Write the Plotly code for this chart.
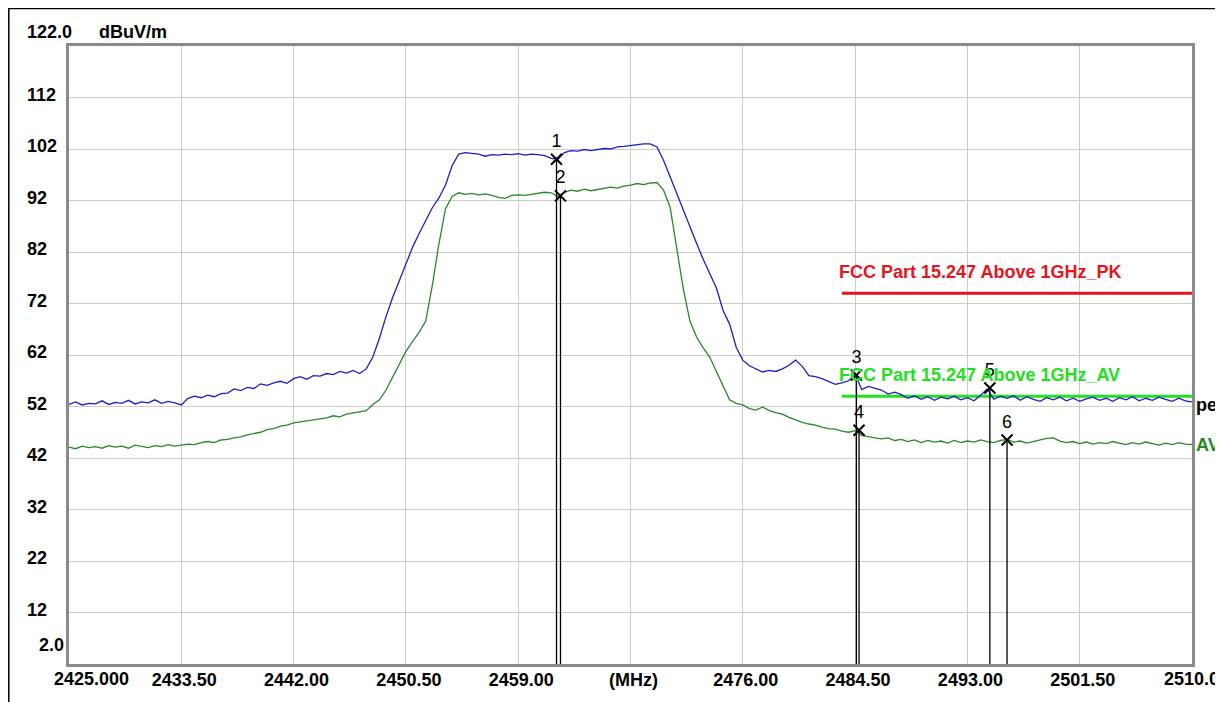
import plotly.graph_objects as go

# ---------------- data ----------------
FREQ_START = 2425.0   # MHz, sweep start
FREQ_STEP = 0.5       # MHz, sweep step

PEAK = [
    52.4, 52.9, 52.3, 52.6, 52.5, 53.1, 52.4, 52.8, 52.6, 53.2,   # 2425.0-2429.5
    52.5, 52.9, 52.7, 53.3, 52.6, 53.0, 52.7, 52.3, 53.6, 54.0,   # 2430.0-2434.5
    53.7, 54.2, 53.9, 54.5, 54.6, 55.4, 55.1, 55.7, 55.5, 56.4,   # 2435.0-2439.5
    56.1, 56.6, 56.9, 56.5, 57.4, 57.8, 57.3, 58.0, 57.9, 58.4,   # 2440.0-2444.5
    58.2, 58.8, 58.5, 59.0, 58.4, 59.3, 61.6, 65.3, 69.5, 73.2,   # 2445.0-2449.5
    76.4, 79.7, 82.9, 85.6, 88.0, 90.6, 92.5, 95.0, 98.8, 101.0,  # 2450.0-2454.5
    101.3, 101.2, 101.0, 100.6, 100.9, 100.8, 101.0, 100.9, 101.1, 100.8,  # 2455.0-2459.5
    101.0, 100.9, 100.7, 100.2, 100.0, 101.3, 101.7, 101.6, 101.9, 101.7,  # 2460.0-2464.5
    101.9, 102.1, 102.0, 102.4, 102.5, 102.7, 102.9, 103.0, 103.0, 102.4,  # 2465.0-2469.5
    99.8, 96.5, 93.4, 90.0, 86.9, 83.7, 80.6, 77.8, 75.0, 70.7,   # 2470.0-2474.5
    68.0, 63.5, 61.0, 59.9, 59.3, 58.7, 59.0, 58.8, 59.3, 60.0,   # 2475.0-2479.5
    61.0, 59.8, 58.0, 57.8, 57.4, 56.8, 56.3, 56.6, 57.0, 58.3,   # 2480.0-2484.5
    55.3, 55.9, 55.5, 55.2, 54.4, 54.8, 54.3, 53.6, 54.1, 53.4,   # 2485.0-2489.5
    53.9, 53.2, 53.8, 53.5, 54.0, 53.3, 53.7, 53.1, 54.2, 55.4,   # 2490.0-2494.5
    53.4, 54.0, 53.6, 54.1, 53.2, 53.9, 53.4, 53.0, 53.7, 53.3,   # 2495.0-2499.5
    53.8, 53.1, 53.6, 53.0, 53.5, 53.8, 53.2, 53.6, 53.0, 53.7,   # 2500.0-2504.5
    53.3, 53.9, 53.1, 53.6, 53.2, 53.8, 53.4, 53.0, 53.6, 53.1,   # 2505.0-2509.5
    52.9,                                                         # 2510.0
]

AVERAGE = [
    44.1, 43.8, 44.3, 44.0, 44.2, 43.9, 44.4, 44.1, 44.3, 43.9,   # 2425.0-2429.5
    44.5, 44.2, 44.0, 44.4, 44.2, 44.6, 44.3, 44.5, 44.7, 44.6,   # 2430.0-2434.5
    45.0, 45.2, 45.0, 45.5, 45.6, 45.9, 46.1, 46.5, 46.7, 47.0,   # 2435.0-2439.5
    47.5, 47.7, 48.2, 48.4, 48.8, 49.0, 49.3, 49.4, 49.7, 49.8,   # 2440.0-2444.5
    50.2, 50.0, 50.5, 50.7, 50.9, 51.2, 52.4, 53.3, 55.2, 57.7,   # 2445.0-2449.5
    60.5, 62.7, 64.6, 66.4, 68.6, 75.5, 83.6, 90.4, 92.8, 93.5,   # 2450.0-2454.5
    93.2, 93.4, 93.1, 93.3, 93.0, 92.6, 92.4, 93.0, 93.1, 93.0,   # 2455.0-2459.5
    93.2, 93.4, 93.6, 93.5, 92.8, 93.6, 94.0, 93.8, 94.2, 93.9,   # 2460.0-2464.5
    94.1, 94.3, 94.6, 94.4, 94.8, 95.0, 95.3, 95.1, 95.4, 95.5,   # 2465.0-2469.5
    94.0, 90.7, 82.9, 74.8, 68.6, 65.5, 63.4, 61.6, 58.8, 56.0,   # 2470.0-2474.5
    53.3, 52.6, 52.3, 51.6, 51.3, 51.9, 51.2, 50.8, 50.5, 49.9,   # 2475.0-2479.5
    49.4, 48.9, 48.6, 48.4, 48.0, 47.7, 47.6, 47.2, 47.0, 47.3,   # 2480.0-2484.5
    46.4, 46.1, 45.9, 45.7, 45.9, 45.4, 45.6, 45.2, 45.5, 45.0,   # 2485.0-2489.5
    45.4, 45.1, 45.3, 44.9, 45.4, 45.0, 45.3, 45.1, 45.5, 45.2,   # 2490.0-2494.5
    45.0, 45.4, 45.6, 45.1, 45.3, 44.9, 45.2, 45.5, 45.8, 45.9,   # 2495.0-2499.5
    45.3, 45.0, 45.2, 44.8, 45.1, 44.7, 45.0, 44.8, 45.2, 44.9,   # 2500.0-2504.5
    44.6, 45.0, 44.7, 45.1, 44.8, 44.5, 44.9, 44.6, 45.0, 44.7,   # 2505.0-2509.5
    44.6,                                                         # 2510.0
]

MARKER_NAMES = ["1", "2", "3", "4", "5", "6"]
MARKER_FREQ = [2461.9, 2462.2, 2484.6, 2484.8, 2494.7, 2496.0]
MARKER_LEVEL = [100.0, 92.9, 58.1, 47.4, 55.6, 45.5]

LIMIT_START = 2483.5
LIMIT_END = 2510.0
LIMIT_PK = 74.0
LIMIT_AV = 54.0
LIMIT_PK_NAME = "FCC Part 15.247 Above 1GHz_PK"
LIMIT_AV_NAME = "FCC Part 15.247 Above 1GHz_AV"

X_MIN, X_MAX = 2425.0, 2510.0
Y_MIN, Y_MAX = 2.0, 122.0
X_TICKS = [2433.5, 2442.0, 2450.5, 2459.0, 2467.5, 2476.0, 2484.5, 2493.0, 2501.5]
X_TICK_TEXT = ["2433.50", "2442.00", "2450.50", "2459.00", "(MHz)",
               "2476.00", "2484.50", "2493.00", "2501.50"]
X_FIRST_LABEL = "2425.000"
X_LAST_LABEL = "2510.0"
Y_TICKS = [12, 22, 32, 42, 52, 62, 72, 82, 92, 102, 112]
Y_TICK_TEXT = ["12", "22", "32", "42", "52", "62", "72", "82", "92", "102", "112"]
Y_TOP_LABEL = "122.0"
Y_BOTTOM_LABEL = "2.0"
Y_UNIT = "dBuV/m"

# ---------------- styles ----------------
FONT = "Liberation Sans, Arial, sans-serif"
BLUE = "#1e1ec8"
DKGREEN = "#2a872a"
LIMGREEN = "#22e022"
RED = "#e8141c"
GRID = "#cccccc"
FRAME = "#8a8a8a"

freq = [FREQ_START + FREQ_STEP * i for i in range(len(PEAK))]

fig = go.Figure()

# limit lines
fig.add_trace(go.Scatter(x=[LIMIT_START, LIMIT_END], y=[LIMIT_PK, LIMIT_PK], mode="lines",
                         line=dict(color=RED, width=3), hoverinfo="skip"))
fig.add_trace(go.Scatter(x=[LIMIT_START, LIMIT_END], y=[LIMIT_AV, LIMIT_AV], mode="lines",
                         line=dict(color=LIMGREEN, width=3), hoverinfo="skip"))

# traces
fig.add_trace(go.Scatter(x=freq, y=AVERAGE, mode="lines", line=dict(color=DKGREEN, width=1.3)))
fig.add_trace(go.Scatter(x=freq, y=PEAK, mode="lines", line=dict(color=BLUE, width=1.3)))

# marker drop lines
lx, ly = [], []
for f, v in zip(MARKER_FREQ, MARKER_LEVEL):
    lx += [f, f, None]
    ly += [v, Y_MIN, None]
fig.add_trace(go.Scatter(x=lx, y=ly, mode="lines", line=dict(color="black", width=1.3),
                         hoverinfo="skip"))

# markers
fig.add_trace(go.Scatter(
    x=MARKER_FREQ, y=MARKER_LEVEL, mode="markers+text", text=MARKER_NAMES,
    textposition="top center",
    textfont=dict(family=FONT, size=18, color="black"),
    marker=dict(symbol="x-thin-open", size=11, line=dict(color="black", width=2), color="black"),
))

annotations = []
lab_font = dict(family=FONT, size=18, color="black", weight="bold")
# y labels (left aligned column)
for v, t in zip(Y_TICKS, Y_TICK_TEXT):
    annotations.append(dict(x=-0.0392, xref="paper", y=v, yref="y", text=t, showarrow=False,
                            xanchor="left", yanchor="middle", yshift=3, font=lab_font))
annotations.append(dict(x=-0.0392, xref="paper", y=Y_MAX, yref="y", text=Y_TOP_LABEL,
                        showarrow=False, xanchor="left", yanchor="middle", yshift=14, font=lab_font))
annotations.append(dict(x=0.0249, xref="paper", y=Y_MAX, yref="y", text=Y_UNIT,
                        showarrow=False, xanchor="left", yanchor="middle", yshift=14, font=lab_font))
annotations.append(dict(x=-0.0285, xref="paper", y=Y_MIN, yref="y", text=Y_BOTTOM_LABEL,
                        showarrow=False, xanchor="left", yanchor="middle", yshift=19, font=lab_font))
# first / last x labels
annotations.append(dict(x=X_MIN, xref="x", y=0, yref="paper", text=X_FIRST_LABEL, showarrow=False,
                        xanchor="left", yanchor="top", xshift=-17, yshift=-3, font=lab_font))
annotations.append(dict(x=X_MAX, xref="x", y=0, yref="paper", text=X_LAST_LABEL, showarrow=False,
                        xanchor="left", yanchor="top", xshift=-30, yshift=-3, font=lab_font))
# limit names
annotations.append(dict(x=LIMIT_START, xref="x", y=LIMIT_PK, yref="y", text=LIMIT_PK_NAME,
                        showarrow=False, xanchor="left", yanchor="middle", xshift=-5, yshift=21,
                        font=dict(family=FONT, size=18, color=RED, weight="bold")))
annotations.append(dict(x=LIMIT_START, xref="x", y=LIMIT_AV, yref="y", text=LIMIT_AV_NAME,
                        showarrow=False, xanchor="left", yanchor="middle", xshift=-5, yshift=21,
                        font=dict(family=FONT, size=18, color=LIMGREEN, weight="bold")))
# trace end labels
annotations.append(dict(x=X_MAX, xref="x", y=PEAK[-1], yref="y", text="pe", showarrow=False,
                        xanchor="left", yanchor="middle", xshift=2, yshift=-3, font=lab_font))
annotations.append(dict(x=X_MAX, xref="x", y=AVERAGE[-1], yref="y", text="AV", showarrow=False,
                        xanchor="left", yanchor="middle", xshift=2, yshift=0,
                        font=dict(family=FONT, size=18, color=DKGREEN, weight="bold")))

shapes = [
    # outer window frame (left, top, right edges)
    dict(type="path", xref="paper", yref="paper",
         path="M -0.0536,-0.08 L -0.0536,1.0605 L 1.0223,1.0605 L 1.0223,-0.08",
         line=dict(color="black", width=1.5)),
]

# page body has an 8px margin: figure is sized so the plot area lands at x 69-1192, y 46-664
fig.update_layout(
    width=1215, height=694,
    margin=dict(l=61, r=31, t=38, b=38),
    paper_bgcolor="white", plot_bgcolor="white",
    showlegend=False,
    annotations=annotations,
    shapes=shapes,
    xaxis=dict(range=[X_MIN, X_MAX], tickmode="array", tickvals=X_TICKS, ticktext=X_TICK_TEXT,
               showgrid=True, gridcolor=GRID, gridwidth=1, zeroline=False,
               showline=True, linecolor=FRAME, linewidth=3, mirror=True,
               ticks="", ticklabelstandoff=-3, ticklabelshift=3,
               tickfont=dict(family=FONT, size=18, color="black", weight="bold")),
    yaxis=dict(range=[Y_MIN, Y_MAX], tickmode="array", tickvals=Y_TICKS,
               showticklabels=False, showgrid=True, gridcolor=GRID, gridwidth=1, zeroline=False,
               showline=True, linecolor=FRAME, linewidth=3, mirror=True, ticks=""),
)

fig.write_html("out.html")
